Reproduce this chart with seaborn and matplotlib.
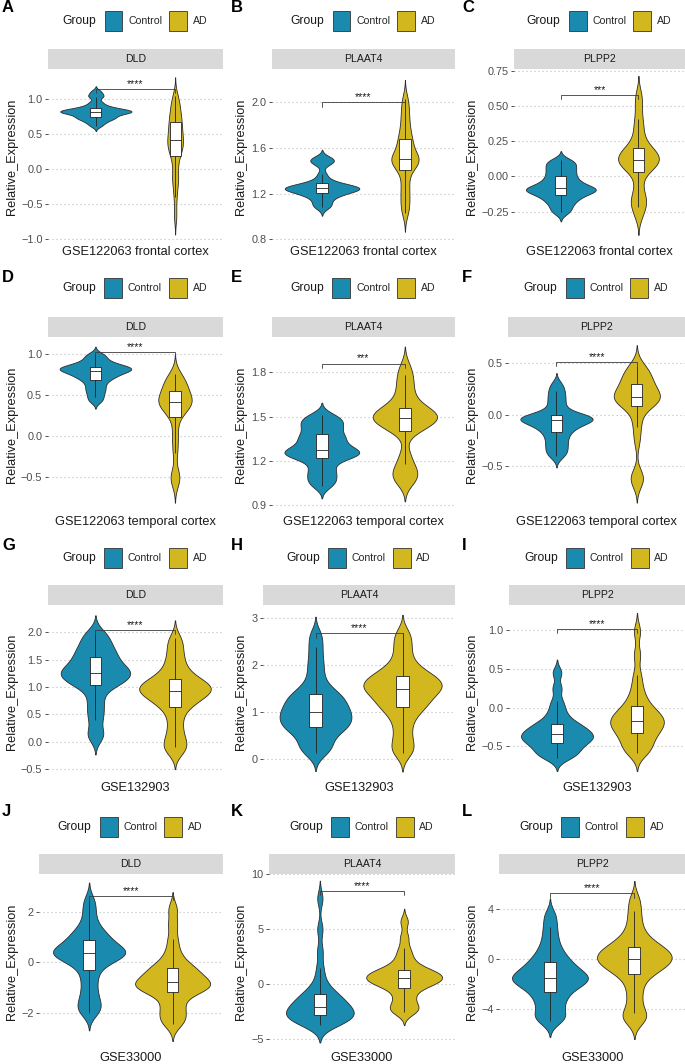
import matplotlib
matplotlib.use("Agg")
import matplotlib.pyplot as plt
from matplotlib.patches import Patch
import seaborn as sns
import pandas as pd

# ---- data (quantile-like samples per group) ----
groups = ["Control", "AD"]
group_colors = ["#1B8AAF", "#D3B71E"]

genes = ["DLD", "PLAAT4", "PLPP2"]
datasets = ["GSE122063 frontal cortex", "GSE122063 temporal cortex",
            "GSE132903", "GSE33000"]
panel_letters = list("ABCDEFGHIJKL")
stars = ["****", "****", "***",
         "****", "***", "****",
         "****", "****", "****",
         "****", "****", "****"]

dld_frontal_control = [0.62, 0.66, 0.69, 0.71, 0.73, 0.74, 0.75, 0.77, 0.79, 0.80, 0.81, 0.815, 0.82,
                       0.825, 0.83, 0.84, 0.85, 0.86, 0.87, 0.89, 0.92, 0.96, 1.03, 1.06, 1.11]
dld_frontal_ad = [-0.66, -0.40, -0.22, -0.14, -0.05, 0.08, 0.19, 0.24, 0.28, 0.32, 0.36, 0.39,
                  0.42, 0.46, 0.50, 0.55, 0.60, 0.64, 0.68, 0.73, 0.78, 0.84, 0.90, 0.97, 1.04]
plaat4_frontal_control = [1.08, 1.10, 1.13, 1.16, 1.18, 1.195, 1.203, 1.215, 1.225, 1.235, 1.24, 1.245, 1.247,
                          1.25, 1.255, 1.26, 1.27, 1.28, 1.296, 1.32, 1.37, 1.46, 1.48, 1.50, 1.51]
plaat4_frontal_ad = [1.03, 1.09, 1.15, 1.21, 1.27, 1.34, 1.41, 1.44, 1.465, 1.48, 1.49, 1.50, 1.50,
                     1.52, 1.55, 1.58, 1.62, 1.65, 1.68, 1.72, 1.77, 1.83, 1.89, 1.96, 2.03]
plpp2_frontal_control = [-0.256, -0.23, -0.20, -0.18, -0.16, -0.145, -0.131, -0.12, -0.11, -0.10, -0.095, -0.09,
                         -0.084, -0.075, -0.065, -0.05, -0.035, -0.02, 0.00, 0.02, 0.04, 0.06, 0.08, 0.10, 0.117]
plpp2_frontal_ad = [-0.28, -0.22, -0.19, -0.16, -0.12, -0.05, 0.03, 0.05, 0.07, 0.09, 0.10, 0.11, 0.12,
                    0.13, 0.14, 0.16, 0.18, 0.19, 0.20, 0.24, 0.29, 0.35, 0.41, 0.50, 0.58]

dld_temporal_control = [0.43, 0.48, 0.53, 0.57, 0.61, 0.65, 0.687, 0.71, 0.73, 0.75, 0.765, 0.78, 0.796,
                        0.805, 0.815, 0.825, 0.83, 0.84, 0.849, 0.865, 0.88, 0.90, 0.93, 0.97, 1.00]
dld_temporal_ad = [-0.57, -0.50, -0.45, -0.20, -0.05, 0.08, 0.24, 0.29, 0.33, 0.36, 0.38, 0.40, 0.415,
                   0.43, 0.45, 0.47, 0.49, 0.52, 0.556, 0.59, 0.62, 0.65, 0.68, 0.72, 0.76]
plaat4_temporal_control = [1.03, 1.06, 1.09, 1.12, 1.15, 1.19, 1.221, 1.23, 1.24, 1.25, 1.26, 1.265, 1.273,
                           1.29, 1.31, 1.33, 1.35, 1.365, 1.379, 1.41, 1.43, 1.45, 1.47, 1.49, 1.51]
plaat4_temporal_ad = [1.06, 1.08, 1.11, 1.14, 1.18, 1.25, 1.40, 1.42, 1.44, 1.46, 1.47, 1.48, 1.49,
                      1.50, 1.51, 1.52, 1.53, 1.545, 1.56, 1.59, 1.63, 1.68, 1.73, 1.78, 1.84]
plpp2_temporal_control = [-0.40, -0.36, -0.32, -0.28, -0.24, -0.20, -0.166, -0.14, -0.115, -0.095, -0.08, -0.065,
                          -0.053, -0.045, -0.037, -0.029, -0.021, -0.013, -0.005, 0.03, 0.08, 0.13, 0.18, 0.23, 0.29]
plpp2_temporal_ad = [-0.65, -0.62, -0.58, -0.25, -0.12, -0.03, 0.085, 0.10, 0.12, 0.13, 0.14, 0.15, 0.166,
                     0.18, 0.20, 0.22, 0.24, 0.27, 0.294, 0.32, 0.35, 0.38, 0.41, 0.44, 0.47]

dld_gse132903_control = [0.08, 0.18, 0.40, 0.55, 0.70, 0.85, 1.02, 1.05, 1.08, 1.13, 1.17, 1.21, 1.24,
                         1.263, 1.29, 1.32, 1.36, 1.40, 1.45, 1.53, 1.56, 1.62, 1.68, 1.75, 1.83, 1.92, 2.00]
dld_gse132903_ad = [-0.17, -0.10, 0.00, 0.12, 0.28, 0.45, 0.60, 0.68, 0.74, 0.79, 0.84, 0.88, 0.91,
                    0.934, 0.96, 0.99, 1.02, 1.05, 1.08, 1.12, 1.17, 1.24, 1.33, 1.45, 1.58, 1.74, 1.89]
plaat4_gse132903_control = [0.14, 0.22, 0.32, 0.44, 0.55, 0.63, 0.68, 0.71, 0.76, 0.82, 0.87, 0.92, 0.97,
                            1.013, 1.06, 1.12, 1.18, 1.24, 1.31, 1.36, 1.41, 1.52, 1.68, 1.90, 2.12, 2.38, 2.64]
plaat4_gse132903_ad = [0.13, 0.25, 0.42, 0.62, 0.82, 0.96, 1.08, 1.13, 1.20, 1.27, 1.34, 1.40, 1.45,
                       1.496, 1.53, 1.57, 1.61, 1.65, 1.70, 1.75, 1.79, 1.86, 1.95, 2.08, 2.28, 2.48, 2.68]
plpp2_gse132903_control = [-0.65, -0.62, -0.59, -0.56, -0.52, -0.49, -0.46, -0.44, -0.42, -0.40, -0.38, -0.36,
                           -0.346, -0.33, -0.31, -0.28, -0.25, -0.23, -0.21, -0.16, -0.10, -0.02, 0.08, 0.25, 0.45]
plpp2_gse132903_ad = [-0.58, -0.56, -0.52, -0.46, -0.41, -0.37, -0.33, -0.30, -0.27, -0.24, -0.21, -0.19,
                      -0.17, -0.15, -0.12, -0.09, -0.06, -0.03, 0.02, 0.08, 0.16, 0.27, 0.42, 0.68, 0.98]

dld_gse33000_control = [-2.00, -1.85, -1.65, -1.40, -1.10, -0.75, -0.45, -0.17, 0.00, 0.12, 0.20, 0.27, 0.31,
                        0.35, 0.40, 0.46, 0.52, 0.58, 0.66, 0.82, 0.94, 1.04, 1.16, 1.35, 1.65, 2.05, 2.45]
dld_gse33000_ad = [-2.46, -2.30, -2.10, -1.90, -1.70, -1.45, -1.20, -1.14, -1.08, -1.02, -0.96, -0.91, -0.86,
                   -0.80, -0.74, -0.67, -0.58, -0.48, -0.36, -0.27, -0.21, -0.08, 0.15, 0.45, 0.90, 1.50, 2.11]
plaat4_gse33000_control = [-3.70, -3.60, -3.50, -3.40, -3.25, -3.10, -2.95, -2.85, -2.77, -2.68, -2.58, -2.45,
                           -2.30, -2.18, -2.06, -1.92, -1.78, -1.60, -1.40, -1.20, -1.05, -0.90, -0.60, -0.20,
                           0.50, 1.50, 3.00, 5.00, 7.80]
plaat4_gse33000_ad = [-2.57, -2.40, -2.20, -1.90, -1.50, -1.10, -0.70, -0.33, -0.15, 0.00, 0.12, 0.24, 0.34,
                      0.44, 0.53, 0.63, 0.74, 0.85, 0.96, 1.07, 1.18, 1.28, 1.50, 1.80, 2.20, 2.70, 3.30, 4.30, 5.70]
plpp2_gse33000_control = [-4.90, -4.70, -4.40, -3.90, -3.45, -3.10, -2.75, -2.43, -2.20, -2.00, -1.85, -1.70,
                          -1.59, -1.48, -1.35, -1.20, -1.05, -0.85, -0.60, -0.35, -0.15, 0.20, 0.60, 1.10,
                          1.80, 2.60, 3.50]
plpp2_gse33000_ad = [-4.90, -4.60, -4.30, -3.50, -2.70, -2.00, -1.35, -1.07, -0.82, -0.62, -0.44, -0.28, -0.14,
                     -0.01, 0.13, 0.27, 0.42, 0.57, 0.72, 0.91, 1.07, 1.35, 1.70, 2.20, 2.95, 3.80, 4.75]

panel_values = [
    (dld_frontal_control, dld_frontal_ad),
    (plaat4_frontal_control, plaat4_frontal_ad),
    (plpp2_frontal_control, plpp2_frontal_ad),
    (dld_temporal_control, dld_temporal_ad),
    (plaat4_temporal_control, plaat4_temporal_ad),
    (plpp2_temporal_control, plpp2_temporal_ad),
    (dld_gse132903_control, dld_gse132903_ad),
    (plaat4_gse132903_control, plaat4_gse132903_ad),
    (plpp2_gse132903_control, plpp2_gse132903_ad),
    (dld_gse33000_control, dld_gse33000_ad),
    (plaat4_gse33000_control, plaat4_gse33000_ad),
    (plpp2_gse33000_control, plpp2_gse33000_ad),
]

y_ticks = [
    [-1.0, -0.5, 0.0, 0.5, 1.0], [0.8, 1.2, 1.6, 2.0], [-0.25, 0.0, 0.25, 0.5, 0.75],
    [-0.5, 0.0, 0.5, 1.0], [0.9, 1.2, 1.5, 1.8], [-0.5, 0.0, 0.5],
    [-0.5, 0.0, 0.5, 1.0, 1.5, 2.0], [0, 1, 2, 3], [-0.5, 0.0, 0.5, 1.0],
    [-2, 0, 2], [-5, 0, 5, 10], [-4, 0, 4],
]
tick_fmt = ["{:.1f}", "{:.1f}", "{:.2f}", "{:.1f}", "{:.1f}", "{:.1f}",
            "{:.1f}", "{:.0f}", "{:.1f}", "{:.0f}", "{:.0f}", "{:.0f}"]

# ---- layout (pixels) ----
W, H = 685, 1064
y_limits = [(-1.067, 1.43), (0.759, 2.29), (-0.48, 0.764),
            (-0.935, 1.211), (0.846, 2.04), (-0.95, 0.748),
            (-0.677, 2.498), (-0.42, 3.28), (-0.92, 1.32),
            (-3.44, 3.49), (-5.91, 10.03), (-7.17, 6.79)]
bracket_y = [1.15, 2.0, 0.58, 1.024, 1.86, 0.51, 2.04, 2.68, 1.013, 2.63, 8.5, 5.25]
panel_left = [48.3, 272.3, 514.3, 47.7, 272.0, 508.3, 47.7, 263.3, 509.0, 39.0, 269.3, 499.3]
col_right = [222.7, 454.7, 685.0]
row_top = [69, 337, 605, 874]
row_bottom = [244, 513, 779, 1049]
strip_h = 20.5
legend_y = [21, 288, 558, 827]
xlabel_y = [252, 522, 788, 1058]
letter_y = [8, 277, 545, 812]
letter_x = [2, 231, 462]
ylabel_x = [12, 241.5, 472]

sns.set_theme(style="white")
plt.rcParams["font.family"] = ["Liberation Sans", "DejaVu Sans"]

fig = plt.figure(figsize=(W / 100, H / 100), dpi=100)
fig.patch.set_facecolor("white")


def px_axes(left, top, right, bottom):
    return fig.add_axes([left / W, 1 - bottom / H, (right - left) / W, (bottom - top) / H])


for i, (ctrl, ad) in enumerate(panel_values):
    r, c = divmod(i, 3)
    left, right = panel_left[i], col_right[c]
    top, bottom = row_top[r], row_bottom[r]
    ax = px_axes(left, top, right, bottom)

    df = pd.DataFrame({
        "Group": ["Control"] * len(ctrl) + ["AD"] * len(ad),
        "Relative_Expression": ctrl + ad,
    })
    # equal-area violins (same n per group); cut > 0 lets each violin taper to a point
    sns.violinplot(data=df, x="Group", y="Relative_Expression", hue="Group",
                   order=groups, hue_order=groups, palette=group_colors,
                   cut=2.4, inner=None, width=0.9, density_norm="area", common_norm=True,
                   bw_adjust=0.5, linewidth=0.6, linecolor="#2b2b2b", saturation=1,
                   legend=False, ax=ax)
    sns.boxplot(data=df, x="Group", y="Relative_Expression", order=groups,
                width=0.14, color="white", saturation=1, showfliers=False, showcaps=False,
                linecolor="#222222", linewidth=0.6, ax=ax)

    ax.set_xlim(-0.6, 1.6)
    ax.set_ylim(*y_limits[i])
    ax.set_xticks([])
    labels = [tick_fmt[i].format(t).replace("-", "\u2212") for t in y_ticks[i]]
    ax.set_yticks(y_ticks[i], labels)
    ax.tick_params(axis="y", length=2.5, width=0.6, color="#333333",
                   labelcolor="#4D4D4D", labelsize=7.8, pad=1.5, left=True)
    for sp in ax.spines.values():
        sp.set_visible(False)
    ax.grid(axis="y", linestyle=(0, (1, 2.6)), color="#BDBDBD", linewidth=0.8)
    ax.grid(axis="x", visible=False)
    ax.set_axisbelow(True)

    ax.set_xlabel(datasets[r], fontsize=9.2, color="#1A1A1A")
    ax.xaxis.label.set_va("center")
    ax.xaxis.set_label_coords(0.5, (bottom - xlabel_y[r]) / (bottom - top))
    ax.set_ylabel("Relative_Expression", fontsize=9.2, color="#1A1A1A")
    ax.yaxis.label.set_va("center")
    ax.yaxis.set_label_coords((ylabel_x[c] - left) / (right - left), 0.5)

    # significance bracket
    lo, hi = y_limits[i]
    tip = 0.025 * (hi - lo)
    by = bracket_y[i]
    ax.plot([0, 0, 1, 1], [by - tip, by, by, by - tip], color="#3a3a3a", lw=0.6, clip_on=False)
    ax.text(0.5, by, stars[i], ha="center", va="bottom", fontsize=7.5, color="#1A1A1A")

    # facet strip
    sax = px_axes(left, top - strip_h, right, top)
    sax.set_facecolor("#D9D9D9")
    sax.set_xticks([])
    sax.set_yticks([])
    for sp in sax.spines.values():
        sp.set_visible(False)
    sax.text(0.5, 0.5, genes[c], transform=sax.transAxes, ha="center", va="center",
             fontsize=7.6, color="#1A1A1A")

    # legend on top
    cx = (left + right) / 2
    fig.text((cx - 73) / W, 1 - legend_y[r] / H, "Group", ha="left", va="center",
             fontsize=8.7, color="#1A1A1A")
    handles = [Patch(facecolor=col, edgecolor="#333333", linewidth=0.6) for col in group_colors]
    ax.legend(handles, groups, ncol=2, loc="center left",
              bbox_to_anchor=((cx - 31) / W, 1 - legend_y[r] / H), bbox_transform=fig.transFigure,
              frameon=False, fontsize=7.6, handlelength=1.7, handleheight=2.4,
              handletextpad=0.55, columnspacing=0.65, borderpad=0, borderaxespad=0)

    fig.text(letter_x[c] / W, 1 - letter_y[r] / H, panel_letters[i], ha="left", va="center",
             fontsize=12, fontweight="bold", color="black")

fig.savefig("out.png", dpi=100)
